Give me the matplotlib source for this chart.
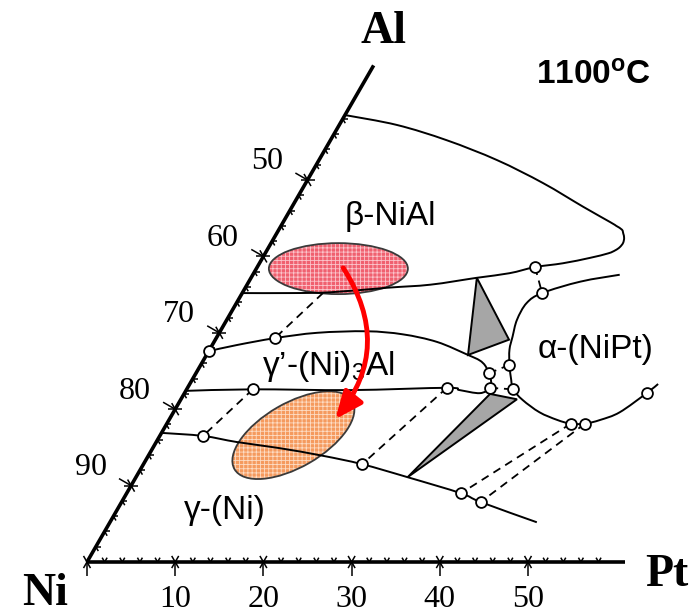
import matplotlib
matplotlib.use("Agg")
import matplotlib.pyplot as plt
from matplotlib.transforms import Affine2D
from matplotlib.patches import Polygon, Ellipse, FancyArrowPatch, PathPatch
from matplotlib.collections import LineCollection
from matplotlib.path import Path

plt.rcParams['mathtext.fontset'] = 'custom'
plt.rcParams['mathtext.rm'] = 'Liberation Sans'
plt.rcParams['mathtext.bf'] = 'Liberation Sans:bold'
plt.rcParams['mathtext.default'] = 'regular'
plt.rcParams['hatch.linewidth'] = 0.6

# every composition is (at.% Pt, at.% Al)
beta_pt = [0, 6.55, 13.2, 20.2, 26.9, 33.0, 37.05, 38.0, 38.9, 39.3, 39.7, 39.9, 39.8,
           39.5, 38.9, 37.1, 34.4, 31.5, 29.0, 25.6, 20.8, 16.1, 9.9, 5.4, 0]
beta_al = [58.5, 57.2, 55.2, 52.6, 49.6, 46.5, 44.5, 44.0, 43.5, 43.0, 42.4, 41.75, 41.2,
           40.8, 40.4, 39.8, 39.1, 38.6, 37.8, 37.2, 36.3, 35.9, 35.3, 35.2, 35.2]

alpha_pt = [41.6, 37.6, 34.0, 32.9, 32.9, 33.5, 34.0, 35.0, 36.2, 37.0, 38.8, 41.5,
            44.0, 45.8, 47.4, 48.9, 50.6, 52.4, 53.1]
alpha_al = [37.6, 36.7, 35.2, 33.9, 31.7, 29.5, 27.8, 25.8, 23.8, 22.6, 21.2, 19.6,
            18.6, 18.1, 18.1, 18.6, 19.6, 22.1, 23.3]

gp_pt = [0, 2.8, 6.65, 11.1, 16.6, 20.9, 25.3, 29.65, 31.3, 32.3, 33.2, 33.9, 34.3,
         33.5, 31.0, 29.4, 18.6, 7.5, 0]
gp_al = [27.6, 28.4, 29.3, 30.0, 30.2, 29.8, 28.8, 27.1, 26.4, 25.7, 24.7, 23.8, 22.8,
         22.1, 22.5, 22.8, 22.5, 22.6, 22.4]

gamma_pt = [0, 4.9, 9.15, 14.4, 19.8, 24.8, 30.8, 37.9, 40.7, 48.4]
gamma_al = [16.9, 16.5, 15.7, 14.9, 13.9, 12.8, 11.1, 9.0, 7.85, 5.2]

# three-phase triangles
tri1_pt = [25.6, 29.65, 33.3]
tri1_al = [37.2, 27.1, 29.1]
tri2_pt = [34.7, 38.1, 30.8]
tri2_al = [22.0, 21.3, 11.1]

# tie lines (start, end)
tie_pt = [(9.15, 6.65), (7.5, 4.9), (29.4, 24.8), (45.8, 37.9), (47.4, 40.7),
          (31.5, 34.0), (33.2, 35.0), (34.3, 37.0)]
tie_al = [(35.2, 29.3), (22.6, 16.5), (22.8, 12.8), (18.1, 9.0), (18.1, 7.85),
          (38.6, 35.2), (24.7, 25.8), (22.8, 22.6)]

circ_pt = [31.5, 34.0, 0, 6.65, 33.2, 34.3, 29.4, 7.5, 4.9, 24.8, 37.9, 40.7,
           35.0, 37.0, 45.8, 47.4, 52.4]
circ_al = [38.6, 35.2, 27.6, 29.3, 24.7, 22.8, 22.8, 22.6, 16.5, 12.8, 9.0, 7.85,
           25.8, 22.6, 18.1, 18.1, 22.1]

# coating compositions and the arrow between them
red_c = (9.3, 38.4)
orange_c = (15.1, 16.6)
arrow_from = (9.8, 38.5)
arrow_to = (18.8, 18.7)

phase_labels = [u"\u03b2-NiAl", u"\u03b3\u2019-(Ni)$_3$Al", u"\u03b1-(NiPt)", u"\u03b3-(Ni)"]
phase_pt = [11.8, 14.5, 43.8, 12.2]
phase_al = [45.2, 25.65, 27.75, 6.8]

pt_major = [0, 10, 20, 30, 40, 50]
pt_labels = ["", "10", "20", "30", "40", "50"]
pt_minor = [v for v in range(2, 60, 2) if v % 10]
al_major = [10, 20, 30, 40, 50]
al_labels = ["90", "80", "70", "60", "50"]
al_minor = [v for v in range(2, 60, 2) if v % 10]

pt_end = 61
al_end = 65

fig = plt.figure(figsize=(6.98, 6.14), dpi=100)
ax = fig.add_axes([0, 0, 1, 1])
ax.set_xlim(0, 698)
ax.set_ylim(614, 0)
ax.axis('off')

# (Pt, Al) -> page, 60 degree triangle with Ni at lower left
tern = Affine2D.from_values(8.82, 0, 4.41, -7.64, 87, 562)
T = tern + ax.transData


def smooth(xs, ys):
    # catmull-rom through the read points, as cubic bezier pieces
    pts = list(zip(xs, ys))
    verts, codes = [pts[0]], [Path.MOVETO]
    for i in range(len(pts) - 1):
        p0 = pts[max(i - 1, 0)]
        p1, p2 = pts[i], pts[i + 1]
        p3 = pts[min(i + 2, len(pts) - 1)]
        c1 = (p1[0] + (p2[0] - p0[0]) / 6, p1[1] + (p2[1] - p0[1]) / 6)
        c2 = (p2[0] - (p3[0] - p1[0]) / 6, p2[1] - (p3[1] - p1[1]) / 6)
        verts += [c1, c2, p2]
        codes += [Path.CURVE4] * 3
    return Path(verts, codes)


# axes
ax.plot([0, pt_end], [0, 0], transform=T, color='k', lw=2.6, solid_capstyle='butt', zorder=4)
ax.plot([0, 0], [0, al_end], transform=T, color='k', lw=2.6, solid_capstyle='butt', zorder=4)

segs = []
def add_tick(p, u1, u2, n, major):
    x, y = p
    if major:
        for u in (u1, u2):
            segs.append([(x - 7 * u[0], y - 7 * u[1]), (x + 7 * u[0], y + 7 * u[1])])
        segs.append([(x, y), (x + 14 * n[0], y + 14 * n[1])])
    else:
        for u in (u1, u2):
            segs.append([(x, y), (x + 5 * u[0], y + 5 * u[1])])

up_r, up_l = (0.5, -0.866), (-0.5, -0.866)
for v in pt_major:
    add_tick(tern.transform((v, 0)), up_r, up_l, (0, 1), True)
for v in pt_minor:
    add_tick(tern.transform((v, 0)), up_r, up_l, (0, 1), False)
for v in al_major:
    add_tick(tern.transform((0, v)), (1, 0), (0.5, 0.866), (-0.866, -0.5), True)
for v in al_minor:
    add_tick(tern.transform((0, v)), (1, 0), (0.5, 0.866), (-0.866, -0.5), False)
ax.add_collection(LineCollection(segs, colors='k', linewidths=1.1, zorder=4))

serif = 'Liberation Serif'
for v, lab in zip(pt_major, pt_labels):
    ax.annotate(lab, (v, 0), xycoords=T, xytext=(0, -27), textcoords='offset points',
                ha='center', va='center', fontsize=23, family=serif)
for v, lab in zip(al_major, al_labels):
    ax.annotate(lab, (0, v), xycoords=T, xytext=(-29, 13), textcoords='offset points',
                ha='center', va='center', fontsize=23, family=serif)

ax.annotate("Al", (0, al_end), xycoords=T, xytext=(7, 24), textcoords='offset points',
            ha='center', va='center', fontsize=33, family=serif, fontweight='bold')
ax.annotate("Ni", (0, 0), xycoords=T, xytext=(-30, -23), textcoords='offset points',
            ha='center', va='center', fontsize=33, family=serif, fontweight='bold')
ax.annotate("Pt", (pt_end, 0), xycoords=T, xytext=(30, -9), textcoords='offset points',
            ha='center', va='center', fontsize=33, family=serif, fontweight='bold')

# phase boundaries
for xs, ys in ((beta_pt, beta_al), (alpha_pt, alpha_al), (gp_pt, gp_al),
               (gamma_pt, gamma_al)):
    ax.add_patch(PathPatch(smooth(xs, ys), transform=T, fill=False, edgecolor='k',
                           lw=1.4, zorder=3))

for tp, ta in ((tri1_pt, tri1_al), (tri2_pt, tri2_al)):
    ax.add_patch(Polygon(list(zip(tp, ta)), closed=True, transform=T, facecolor='#a6a6a6',
                         edgecolor='k', lw=1.4, zorder=3))

for tp, ta in zip(tie_pt, tie_al):
    ax.plot(tp, ta, transform=T, color='k', lw=1.3, dashes=(4.5, 3.2), zorder=3)

ax.plot(circ_pt, circ_al, 'o', transform=T, ms=7.8, mfc='white', mec='k', mew=1.3, zorder=5)

# coating ellipses
rx, ry = tern.transform(red_c)
ox, oy = tern.transform(orange_c)
for (cx, cy, w, h, ang, fc, hc) in ((rx, ry, 139, 51, 0, '#f0606f', '#fbc4cb'),
                                    (ox, oy, 136, 64, -30, '#f59a5e', '#fddcc4')):
    ax.add_patch(Ellipse((cx, cy), w, h, angle=ang, facecolor=fc, edgecolor=hc,
                         hatch='++++', lw=0, zorder=2))
    ax.add_patch(Ellipse((cx, cy), w, h, angle=ang, facecolor='none', edgecolor='#3a3a3a',
                         lw=1.3, zorder=2.5))

ax.add_patch(FancyArrowPatch(arrow_from, arrow_to, transform=T,
                             connectionstyle='arc3,rad=-0.36',
                             arrowstyle='-|>,head_length=0.75,head_width=0.32',
                             mutation_scale=22, color='#ff0000', lw=3.5,
                             shrinkA=0, shrinkB=0, zorder=6))

for lab, p, a in zip(phase_labels, phase_pt, phase_al):
    ax.text(p, a, lab, transform=T, ha='center', va='center', fontsize=24,
            family='Liberation Sans', zorder=5)

ax.text(593 / 698, 1 - 76 / 614, r"1100$^{\mathbf{o}}$C", transform=ax.transAxes,
        ha='center', va='center', fontsize=24, family='Liberation Sans', fontweight='bold')

fig.savefig("out.png", dpi=100)
